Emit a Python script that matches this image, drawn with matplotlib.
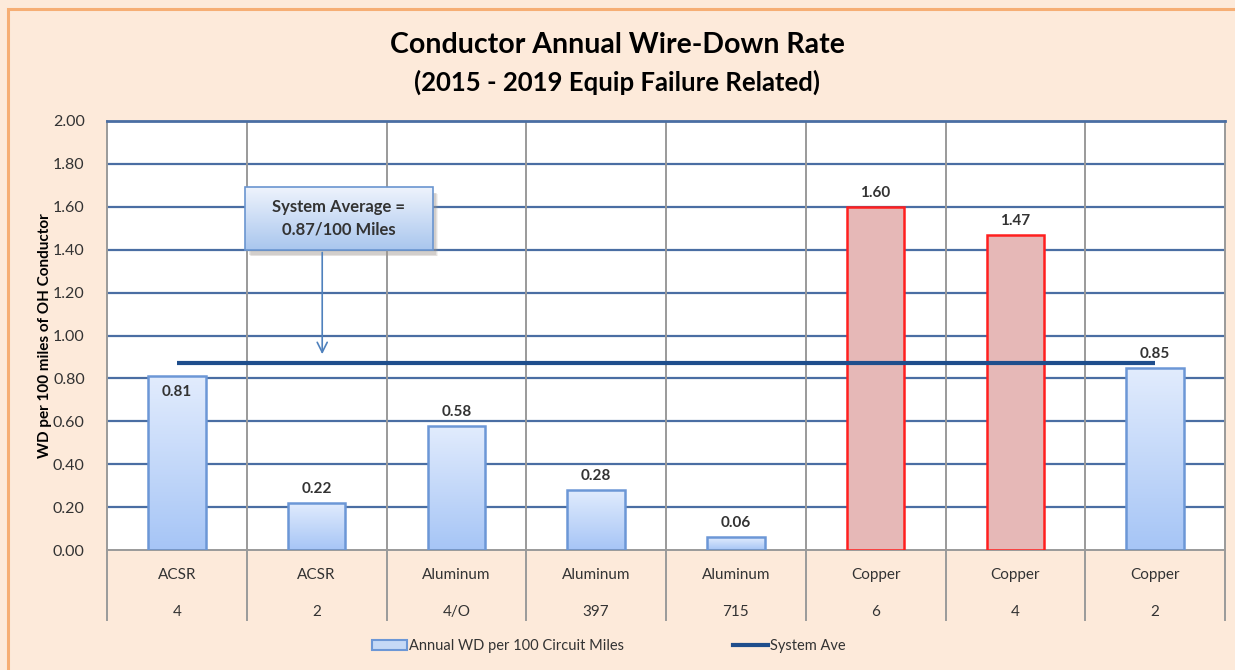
import numpy as np
import matplotlib.pyplot as plt
from matplotlib.patches import Rectangle
from matplotlib.lines import Line2D
from matplotlib.colors import LinearSegmentedColormap
import matplotlib.transforms as mtransforms

plt.rcParams['font.family'] = ['Lato', 'DejaVu Sans']

# Datos del gráfico
materials = ["ACSR", "ACSR", "Aluminum", "Aluminum", "Aluminum", "Copper", "Copper", "Copper"]
sizes = ["4", "2", "4/O", "397", "715", "6", "4", "2"]
wd_rate = [0.81, 0.22, 0.58, 0.28, 0.06, 1.60, 1.47, 0.85]
system_avg = 0.87
highlight = [False, False, False, False, False, True, True, False]
y_ticks = [0.0, 0.2, 0.4, 0.6, 0.8, 1.0, 1.2, 1.4, 1.6, 1.8, 2.0]

BG = "#FDEADA"
GRID_BLUE = "#4A6EA3"
GRID_GRAY = "#9A9A9A"
TEXT = "#333333"

fig = plt.figure(figsize=(12.35, 6.7), dpi=100, facecolor=BG)
fig.patches.append(Rectangle((8 / 1235, -0.1), 1.2, 661 / 670 + 0.1,
                             transform=fig.transFigure, facecolor="none",
                             edgecolor="#F6AE74", lw=2.2, zorder=0))

ax = fig.add_axes([107 / 1235, 120 / 670, 1118 / 1235, 429 / 670])
ax.set_facecolor("white")
x = np.arange(len(wd_rate))

# cuadrícula
for yv in y_ticks[1:-1]:
    ax.axhline(yv, color=GRID_BLUE, lw=1.6, zorder=1)
for xv in np.arange(0.5, len(wd_rate) - 0.5, 1.0):
    ax.axvline(xv, color=GRID_GRAY, lw=1.4, zorder=1)

for side in ["left", "right", "bottom"]:
    ax.spines[side].set_color(GRID_GRAY)
    ax.spines[side].set_linewidth(1.4)
ax.spines["top"].set_color(GRID_BLUE)
ax.spines["top"].set_linewidth(2.0)

ax.set_yticks(y_ticks)
ax.set_yticklabels([f"{v:.2f}" for v in y_ticks], fontsize=11.5, color=TEXT)
ax.tick_params(axis="y", length=0, pad=16)
ax.set_xticks([])
ax.set_ylabel("WD per 100 miles of OH Conductor", fontsize=11, fontweight="bold",
              color="black", labelpad=1)

# barras con degradado
blue_cmap = LinearSegmentedColormap.from_list("azul", ["#E2ECFD", "#A6C5F6"])
grad = np.linspace(0, 1, 256).reshape(-1, 1)
bars = ax.bar(x, wd_rate, width=0.41, zorder=3,
              color=["#E6B8B7" if h else "none" for h in highlight],
              edgecolor=["#FF1F1F" if h else "#6C97D6" for h in highlight],
              linewidth=1.8)
for bar, h in zip(bars, highlight):
    if h:
        continue
    x0, y0 = bar.get_x(), bar.get_y()
    im = ax.imshow(grad, cmap=blue_cmap, aspect="auto", origin="upper",
                   extent=(x0, x0 + bar.get_width(), y0, y0 + bar.get_height()),
                   zorder=2.5)
    im.set_clip_path(bar)

# etiquetas de valor
for i, v in enumerate(wd_rate):
    if i == 0:
        ax.annotate(f"{v:.2f}", (i, v), xytext=(0, -6), textcoords="offset points",
                    ha="center", va="top", fontsize=11, fontweight="bold",
                    color=TEXT, zorder=5)
    else:
        ax.annotate(f"{v:.2f}", (i, v), xytext=(0, 5), textcoords="offset points",
                    ha="center", va="bottom", fontsize=11, fontweight="bold",
                    color=TEXT, zorder=5)

# promedio del sistema
ax.plot([x[0], x[-1]], [system_avg, system_avg], color="#1F4E8C", lw=3, zorder=4,
        solid_capstyle="butt")

# etiquetas de categoría en dos niveles
trans = mtransforms.blended_transform_factory(ax.transData, ax.transAxes)
for i, (m, s) in enumerate(zip(materials, sizes)):
    ax.text(i, -25 / 429, m, transform=trans, ha="center", va="center",
            fontsize=11, color=TEXT)
    ax.text(i, -62 / 429, s, transform=trans, ha="center", va="center",
            fontsize=11, color=TEXT)
for xv in np.arange(-0.5, len(wd_rate), 1.0):
    ax.add_line(Line2D([xv, xv], [0, -70 / 429], transform=trans, color=GRID_GRAY,
                       lw=1.4, clip_on=False))

# cuadro de anotación
bx0, bx1, by0, by1 = 0.49, 1.83, 1.40, 1.69
for k, a in enumerate([0.12, 0.18, 0.25]):
    d = 0.012 * (3 - k)
    ax.add_patch(Rectangle((bx0 + 0.02 + d * 0.5, by0 - 0.02 - d * 0.3), bx1 - bx0, by1 - by0,
                           facecolor="#A09890", edgecolor="none", alpha=a, zorder=5))
box = Rectangle((bx0, by0), bx1 - bx0, by1 - by0, facecolor="none",
                edgecolor="#6A95D0", lw=1.2, zorder=7)
ax.add_patch(box)
box_cmap = LinearSegmentedColormap.from_list("caja", ["#EEF3FC", "#A9C6EE"])
bim = ax.imshow(grad, cmap=box_cmap, aspect="auto", origin="upper",
                extent=(bx0, bx1, by0, by1), zorder=6)
bim.set_clip_path(box)
ax.text((bx0 + bx1) / 2, (by0 + by1) / 2, "System Average =\n0.87/100 Miles",
        ha="center", va="center", fontsize=12, fontweight="bold", color=TEXT,
        linespacing=1.5, zorder=8)
ax.annotate("", xy=(1.04, 0.90), xytext=(1.04, by0),
            arrowprops=dict(arrowstyle="->", color="#4F81BD", lw=1.2,
                            mutation_scale=18), zorder=6)
ax.set_xlim(-0.5, len(wd_rate) - 0.5)
ax.set_ylim(0, 2.0)

# títulos
fig.text(0.5, 1 - 45 / 670, "Conductor Annual Wire-Down Rate", ha="center", va="center",
         fontsize=20.5, fontweight="bold", color="black")
fig.text(0.5, 1 - 82 / 670, "(2015 - 2019 Equip Failure Related)", ha="center", va="center",
         fontsize=18.5, fontweight="bold", color="black")

# leyenda
handles = [Rectangle((0, 0), 1, 1, facecolor="#C5D9F6", edgecolor="#6C97D6", lw=1.5),
           Line2D([0], [0], color="#1F4E8C", lw=3)]
fig.legend(handles, ["Annual WD per 100 Circuit Miles", "System Ave"],
           loc="center", bbox_to_anchor=(0.493, 1 - 646 / 670), ncol=2, frameon=False,
           fontsize=10.5, handlelength=2.4, handletextpad=0.1, columnspacing=7.5,
           labelcolor=TEXT)

plt.savefig("out.png", dpi=100, facecolor=BG)
